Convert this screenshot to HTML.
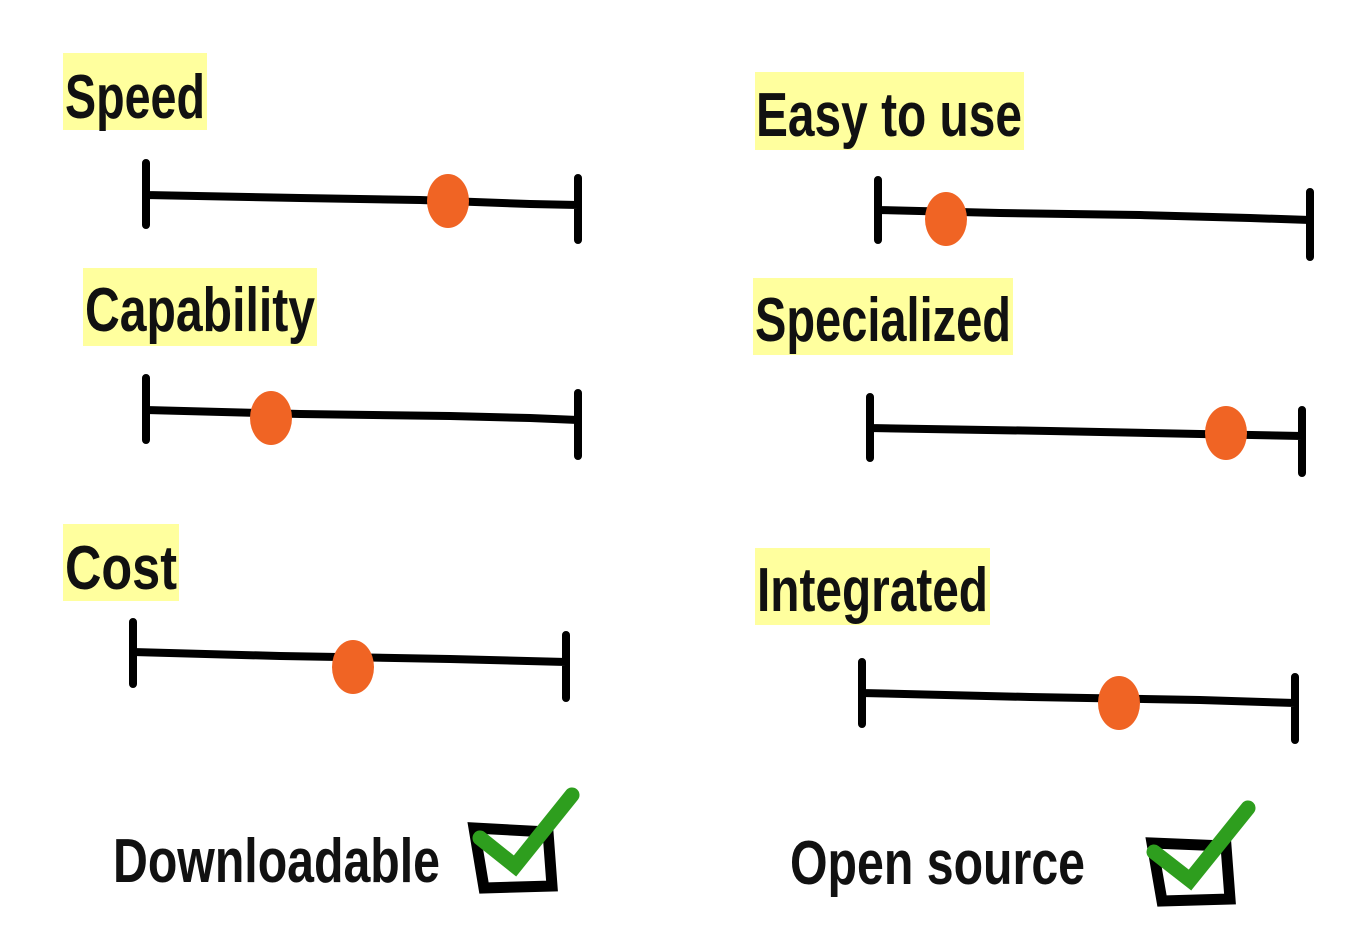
<!DOCTYPE html>
<html><head><meta charset="utf-8"><style>
html,body{margin:0;padding:0;background:#fff;}
svg{display:block}
text{font-family:"Liberation Sans",sans-serif;font-weight:bold;fill:#111;}
</style></head><body>
<svg width="1370" height="932" viewBox="0 0 1370 932" xmlns="http://www.w3.org/2000/svg">
<g fill="#ffff9e">
<rect x="63" y="53" width="144" height="77"/>
<rect x="755" y="72" width="269" height="78"/>
<rect x="83" y="268" width="234" height="78"/>
<rect x="753" y="278" width="260" height="77"/>
<rect x="63" y="524" width="116" height="77"/>
<rect x="755" y="548" width="235" height="77"/>
</g>
<g font-size="62">
<text x="65" y="118" textLength="140" lengthAdjust="spacingAndGlyphs">Speed</text>
<text x="756" y="136" textLength="266" lengthAdjust="spacingAndGlyphs">Easy to use</text>
<text x="85" y="331" textLength="230" lengthAdjust="spacingAndGlyphs">Capability</text>
<text x="755" y="341" textLength="256" lengthAdjust="spacingAndGlyphs">Specialized</text>
<text x="65" y="589" textLength="112" lengthAdjust="spacingAndGlyphs">Cost</text>
<text x="757" y="611" textLength="231" lengthAdjust="spacingAndGlyphs">Integrated</text>
<text x="113" y="882" textLength="327" lengthAdjust="spacingAndGlyphs">Downloadable</text>
<text x="790" y="884" textLength="295" lengthAdjust="spacingAndGlyphs">Open source</text>
</g>
<g stroke="#000" stroke-width="8" stroke-linecap="round" fill="none">
<path d="M146 163V225M146 195L300 198L420 200L530 204L578 205M578 178V240"/>
<path d="M878 180V240M878 210L1000 213L1140 215L1250 218L1310 220M1310 192V257"/>
<path d="M146 378V440M146 410L300 414L450 416L530 418L578 420M578 393V456"/>
<path d="M870 397V458M870 428L1050 431L1200 434L1302 436M1302 410V473"/>
<path d="M133 622V684M133 652L280 656L450 659L566 662M566 635V698"/>
<path d="M862 662V724M862 693L1030 697L1200 700L1295 703M1295 677V740"/>
<path d="M474 828L548 832L552 886L484 888Z" stroke-width="11"/>
<path d="M1152 843L1226 846L1230 899L1162 901Z" stroke-width="11"/>
</g>
<g fill="#f06424">
<ellipse cx="448" cy="201" rx="21" ry="27"/>
<ellipse cx="946" cy="219" rx="21" ry="27"/>
<ellipse cx="271" cy="418" rx="21" ry="27"/>
<ellipse cx="1226" cy="433" rx="21" ry="27"/>
<ellipse cx="353" cy="667" rx="21" ry="27"/>
<ellipse cx="1119" cy="703" rx="21" ry="27"/>
</g>
<g stroke="#2e9e1e" stroke-width="15" stroke-linecap="round" fill="none">
<path d="M480 838L515 866L572 795"/>
<path d="M1154 852L1190 880L1248 808"/>
</g>
</svg>
</body></html>
